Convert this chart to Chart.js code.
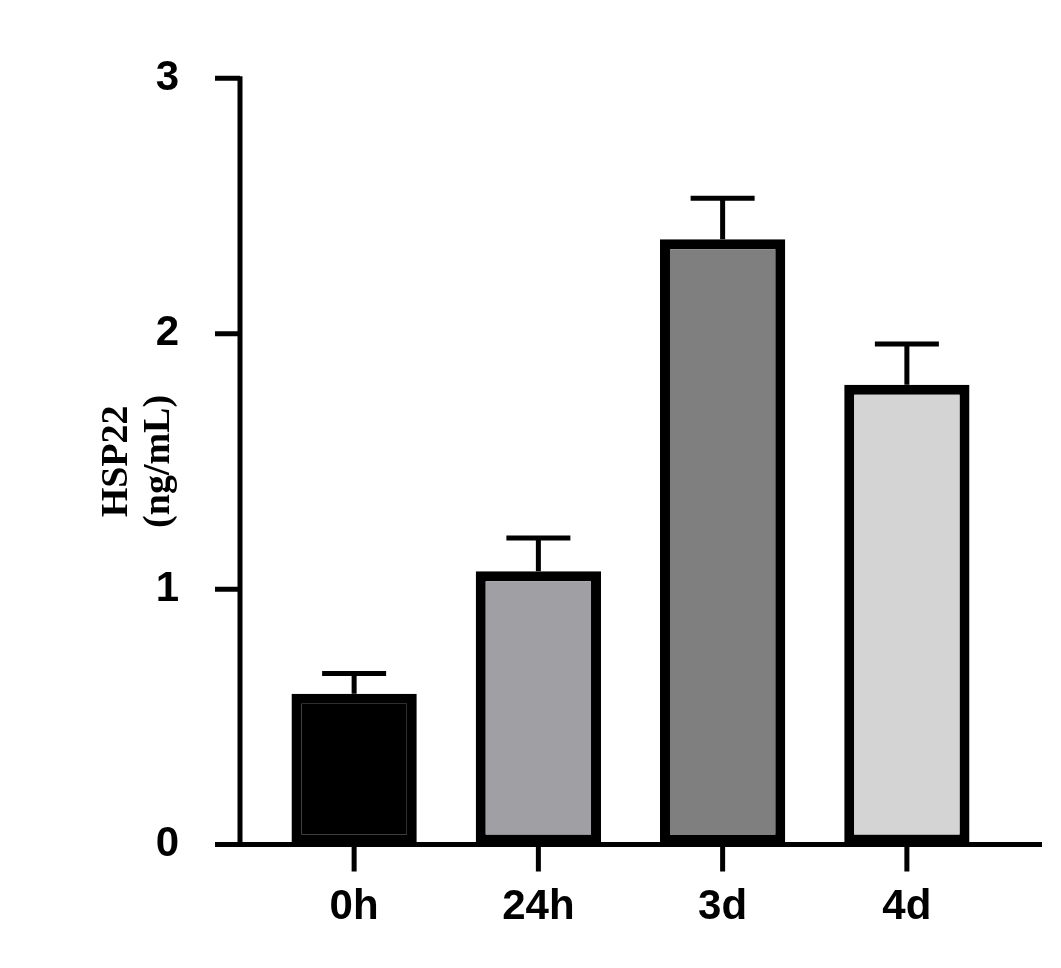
<!DOCTYPE html>
<html><head><script src="https://cdn.jsdelivr.net/npm/chart.js@4"></script>
<style>body{margin:0;background:#fff;overflow:hidden}#w{width:1061px;height:990px;margin-top:-22px}</style></head>
<body><div id="w"><canvas id="c"></canvas></div>
<script>
const categories=["0h","24h","3d","4d"];
const means=[0.59,1.07,2.37,1.80];
const errTop=[0.67,1.20,2.53,1.96];
const fills=["#000000","#a09fa4","#7f7f7f","#d4d4d4"];
const yTicks=[0,1,2,3];
const AXIS_X=240;
const axes={id:"axes",afterDraw(ch){
 const c=ch.ctx,y=ch.scales.y,x=ch.scales.x;
 c.save();c.strokeStyle="#000";c.lineWidth=5;c.lineCap="butt";
 means.forEach((m,i)=>{const cx=x.getPixelForValue(i);
  c.beginPath();c.moveTo(cx,y.getPixelForValue(m));c.lineTo(cx,y.getPixelForValue(errTop[i]));
  c.moveTo(cx-32,y.getPixelForValue(errTop[i]));c.lineTo(cx+32,y.getPixelForValue(errTop[i]));c.stroke();});
 const y0=y.getPixelForValue(0);
 c.beginPath();c.moveTo(AXIS_X,y.getPixelForValue(3)-2);c.lineTo(AXIS_X,y0+2.5);
 c.moveTo(AXIS_X-2.5,y0);c.lineTo(1042,y0);
 yTicks.forEach(t=>{const p=y.getPixelForValue(t);c.moveTo(AXIS_X-25,p);c.lineTo(AXIS_X,p);});
 categories.forEach((_,i)=>{const p=x.getPixelForValue(i);c.moveTo(p,y0);c.lineTo(p,y0+27);});
 c.stroke();c.restore();}};
new Chart(document.getElementById("c"),{type:"bar",
data:{labels:categories,datasets:[{data:means,backgroundColor:fills,borderColor:"#000",borderWidth:10,borderSkipped:false,barPercentage:0.68,categoryPercentage:1}]},
options:{responsive:true,maintainAspectRatio:false,animation:false,
 layout:{padding:{top:0,right:62,bottom:5,left:92}},
 plugins:{legend:{display:false},tooltip:{enabled:false}},
 scales:{
  x:{grid:{display:false},border:{display:false},ticks:{padding:30,color:"#000",font:{family:"Liberation Sans",weight:"bold",size:42}}},
  y:{min:0,max:3,afterBuildTicks(s){s.ticks=yTicks.map(v=>({value:v}));},afterFit(s){s.width=170;},grid:{display:false},border:{display:false},
   ticks:{padding:75,color:"#000",font:{family:"Liberation Sans",weight:"bold",size:42}},
   title:{display:true,text:["HSP22","(ng/mL)"],color:"#000",padding:{bottom:10},font:{family:"Liberation Serif",weight:"bold",size:38,lineHeight:1.1}}}
 }},plugins:[axes]});
</script></body></html>
